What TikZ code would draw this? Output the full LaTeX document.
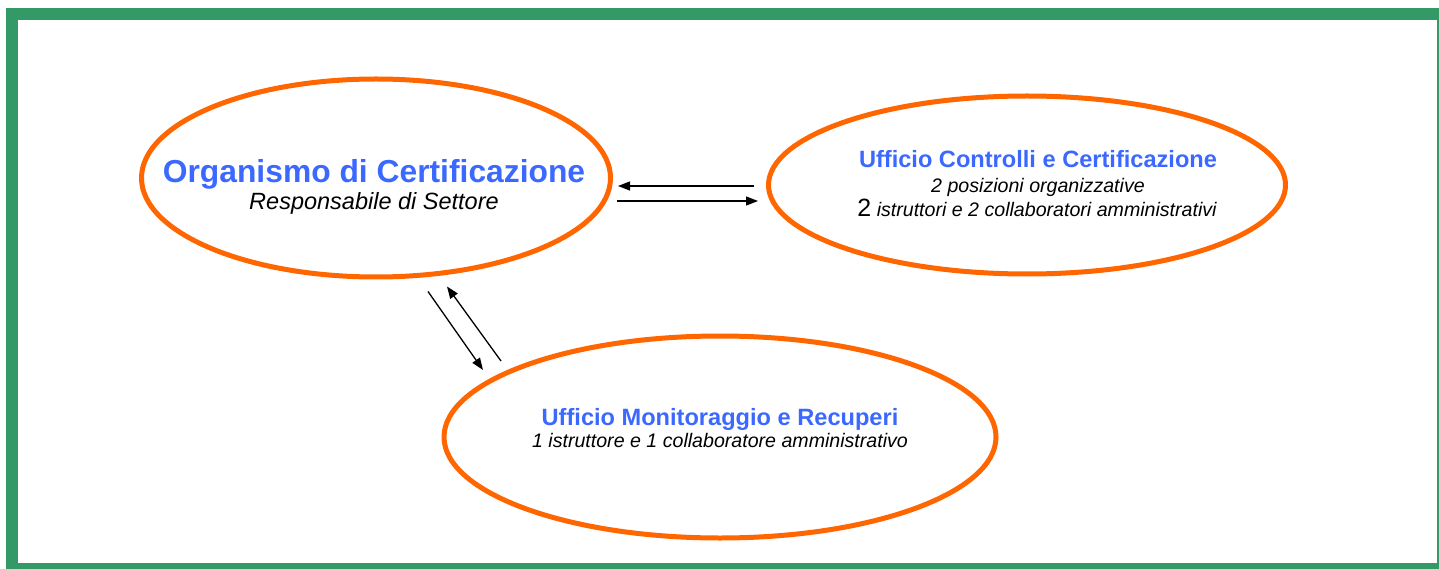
\documentclass[tikz,border=0pt]{standalone}
\usepackage{fontspec}
\setmainfont{Liberation Sans}
\usepackage{tikz}
\usetikzlibrary{shapes.geometric,arrows.meta,calc}
\definecolor{frameGreen}{RGB}{51,153,102}
\definecolor{rimOrange}{RGB}{255,102,0}
\definecolor{headBlue}{RGB}{59,104,255}

\begin{document}
\begin{tikzpicture}[x=1pt,y=-1pt,
        office/.style={ellipse,draw=rimOrange,line width=5pt,inner sep=0pt},
        head/.style={anchor=base,text=headBlue,font=\bfseries\fontsize{23.6}{28}\selectfont},
        staff/.style={anchor=base,font=\itshape\fontsize{19.6}{23}\selectfont},
        link/.style={line width=1.3pt,-{Triangle[length=12pt,width=9pt]}}]
        \useasboundingbox (0,0) rectangle (1439,569);
        \clip (0,0) rectangle (1439,569);
        \draw[frameGreen,line width=12pt] (12,14) rectangle (1443,569); % frame
        \node[office,minimum width=469pt,minimum height=198pt] (org) at (376,178) {};
        \node[office,minimum width=517pt,minimum height=178pt] (ctrl) at (1027,185) {};
        \node[office,minimum width=552pt,minimum height=202pt] (mon) at (720,437) {};
        \node[head,font=\bfseries\fontsize{31.8}{36}\selectfont] (orgname) at (374,183) {Organismo di Certificazione};
        \node[staff,font=\itshape\fontsize{23.5}{27}\selectfont] (orghead) at (374,210) {Responsabile di Settore};
        \node[head] (ctrlname) at (1038,168) {Ufficio Controlli e Certificazione};
        \node[staff] (ctrlpo) at (1038,193) {2 posizioni organizzative};
        \node[staff] (ctrlstaff) at (1037,217) {{\upshape\fontsize{25}{28}\selectfont 2} istruttori e 2 collaboratori amministrativi};
        \node[head] (monname) at (720,425) {Ufficio Monitoraggio e Recuperi};
        \node[staff] (monstaff) at (720,447) {1 istruttore e 1 collaboratore amministrativo};
        \draw[link] ($(ctrl.west)+(-12,1)$) -- ($(org.east)+(5,8)$); % to the left
        \draw[link] ($(org.east)+(4,23)$) -- ($(ctrl.west)+(-8,16)$); % to the right
        \draw[link] ($(org.south)+(52,12)$) -- ($(mon.center)+(-237,-67)$); % down
        \draw[link] ($(mon.center)+(-219,-76)$) -- ($(org.south)+(71,7)$); % up
\end{tikzpicture}
\end{document}
